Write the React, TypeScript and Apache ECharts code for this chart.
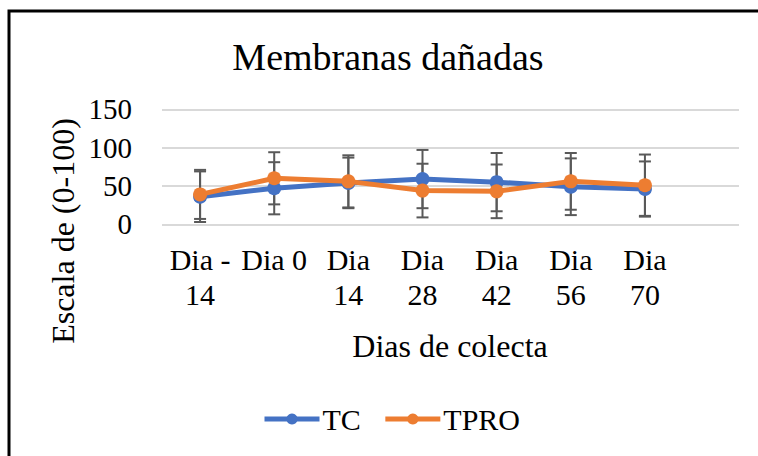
import React, { useEffect, useRef } from "react";
import * as echarts from "echarts";

const categories = ["Dia -\n14", "Dia 0", "Dia\n14", "Dia\n28", "Dia\n42", "Dia\n56", "Dia\n70"];
const tcValues = [36, 47, 54, 59, 55, 49, 46];
const tcErrors = [33, 34, 33, 38, 38, 37, 36];
const tproValues = [39, 60, 56, 44, 43, 56, 51];
const tproErrors = [32, 34, 34, 35, 35, 37, 40];
const yTicks = [0, 50, 100, 150];

const FONT = "'Liberation Serif', 'Times New Roman', serif";
const BLUE = "#4472C4";
const ORANGE = "#ED7D31";
const ERR = "#595959";

function errorSeries(name: string, values: number[], errors: number[]) {
  return {
    type: "custom",
    name: name + "_err",
    xAxisIndex: 1,
    yAxisIndex: 1,
    z: 1,
    silent: true,
    data: values.map((v, i) => [i, v, errors[i]]),
    renderItem: (_params: any, api: any) => {
      const x = api.value(0);
      const v = api.value(1);
      const e = api.value(2);
      const top = api.coord([x, v + e]);
      const bot = api.coord([x, v - e]);
      const hw = 6;
      const style = { stroke: ERR, lineWidth: 2 };
      return {
        type: "group",
        children: [
          { type: "line", shape: { x1: top[0], y1: top[1], x2: bot[0], y2: bot[1] }, style },
          { type: "line", shape: { x1: top[0] - hw, y1: top[1], x2: top[0] + hw, y2: top[1] }, style },
          { type: "line", shape: { x1: bot[0] - hw, y1: bot[1], x2: bot[0] + hw, y2: bot[1] }, style },
        ],
      };
    },
  };
}

export default function App() {
  const ref = useRef<HTMLDivElement>(null);
  useEffect(() => {
    if (!ref.current) return;
    const chart = echarts.init(ref.current, null, { renderer: "svg" });
    const top = 109.3;
    const height = 115;
    chart.setOption({
      animation: false,
      backgroundColor: "#ffffff",
      textStyle: { fontFamily: FONT },
      title: {
        text: "Membranas dañadas",
        left: 383,
        top: 33,
        textAlign: "center",
        textStyle: { fontFamily: FONT, fontSize: 38, fontWeight: "normal", color: "#000" },
      },
      grid: [
        { left: 162, right: 19, top, height },
        { left: 163, width: 519, top, height },
      ],
      xAxis: [
        { type: "value", gridIndex: 0, show: false, min: 0, max: 1 },
        {
          type: "category",
          gridIndex: 1,
          data: categories,
          boundaryGap: true,
          axisLine: { show: false },
          axisTick: { show: false },
          axisLabel: {
            color: "#000",
            fontFamily: FONT,
            fontSize: 30,
            lineHeight: 35,
            margin: 18,
            interval: 0,
          },
        },
      ],
      yAxis: [
        {
          type: "value",
          gridIndex: 0,
          min: yTicks[0],
          max: yTicks[yTicks.length - 1],
          interval: 50,
          axisLine: { show: false },
          axisTick: { show: false },
          axisLabel: { color: "#000", fontFamily: FONT, fontSize: 29, margin: 30 },
          splitLine: { lineStyle: { color: "#D9D9D9", width: 2 } },
        },
        {
          type: "value",
          gridIndex: 1,
          min: yTicks[0],
          max: yTicks[yTicks.length - 1],
          interval: 50,
          show: false,
          splitLine: { show: false },
        },
      ],
      legend: {
        data: ["TC", "TPRO"],
        left: 262,
        top: 404,
        padding: 0,
        itemWidth: 55,
        itemHeight: 14,
        itemGap: 22,
        lineStyle: { width: 5 },
        textStyle: { fontFamily: FONT, fontSize: 30, color: "#000", padding: [0, 0, 0, -2] },
      },
      graphic: [
        {
          type: "text",
          x: 63,
          y: 231,
          rotation: Math.PI / 2,
          style: {
            text: "Escala de (0-100)",
            fontFamily: FONT,
            fontSize: 32,
            fill: "#000",
            textAlign: "center",
            textVerticalAlign: "middle",
          },
        },
        {
          type: "text",
          x: 450,
          y: 346,
          style: {
            text: "Dias de colecta",
            fontFamily: FONT,
            fontSize: 32,
            fill: "#000",
            textAlign: "center",
            textVerticalAlign: "middle",
          },
        },
        {
          type: "rect",
          shape: { x: 9, y: 11, width: 800, height: 500 },
          style: { fill: "none", stroke: "#000", lineWidth: 3 },
          silent: true,
        },
      ],
      series: [
        errorSeries("TC", tcValues, tcErrors),
        errorSeries("TPRO", tproValues, tproErrors),
        {
          type: "line",
          name: "TC",
          xAxisIndex: 1,
          yAxisIndex: 1,
          z: 3,
          data: tcValues,
          symbol: "circle",
          symbolSize: 14,
          lineStyle: { color: BLUE, width: 5 },
          itemStyle: { color: BLUE },
        },
        {
          type: "line",
          name: "TPRO",
          xAxisIndex: 1,
          yAxisIndex: 1,
          z: 4,
          data: tproValues,
          symbol: "circle",
          symbolSize: 14,
          lineStyle: { color: ORANGE, width: 5 },
          itemStyle: { color: ORANGE },
        },
      ],
    });
    return () => chart.dispose();
  }, []);
  return (
    <div
      ref={ref}
      style={{ position: "fixed", left: 0, top: 0, width: 758, height: 456 }}
    />
  );
}
